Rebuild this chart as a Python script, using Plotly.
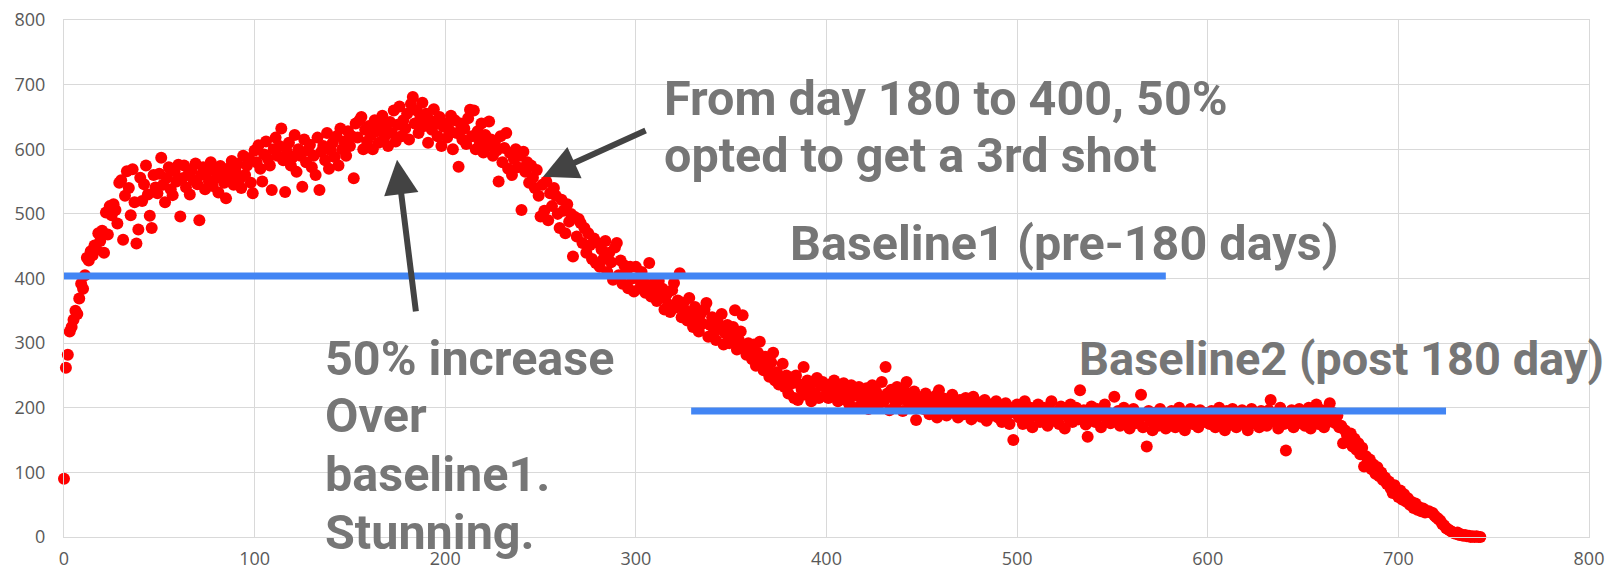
import plotly.graph_objects as go

# Daily values (day index = position in list)
vals_000_049 = [90, 262, 282, 318, 325, 336, 350, 345, 369, 392,
                384, 405, 432, 428, 442, 436, 451, 445, 470, 458,
                474, 440, 502, 468, 512, 498, 515, 506, 485, 548,
                552, 460, 528, 566, 540, 498, 569, 518, 454, 476,
                556, 520, 546, 575, 530, 497, 478, 560, 541, 532]
vals_050_099 = [562, 587, 545, 518, 556, 572, 538, 529, 566, 550,
                576, 496, 555, 575, 541, 560, 530, 568, 552, 578,
                546, 490, 560, 572, 538, 565, 550, 580, 543, 568,
                556, 533, 574, 562, 548, 524, 570, 558, 582, 545,
                566, 577, 553, 540, 590, 560, 575, 586, 548, 532]
vals_100_149 = [598, 580, 606, 570, 550, 592, 612, 585, 575, 537,
                600, 618, 590, 605, 632, 583, 534, 596, 610, 575,
                588, 622, 565, 600, 590, 542, 615, 580, 598, 607,
                572, 590, 560, 618, 537, 596, 605, 583, 625, 570,
                598, 610, 588, 620, 575, 632, 600, 612, 590, 628]
vals_150_199 = [605, 620, 555, 640, 618, 645, 650, 600, 630, 612,
                636, 622, 600, 645, 628, 610, 640, 652, 618, 630,
                605, 642, 625, 660, 612, 638, 666, 620, 645, 632,
                655, 615, 670, 681, 640, 660, 625, 650, 672, 636,
                655, 610, 645, 630, 662, 640, 620, 650, 605, 635]
vals_200_249 = [640, 618, 630, 652, 600, 645, 625, 573, 640, 615,
                632, 608, 648, 661, 620, 660, 600, 628, 612, 640,
                595, 622, 605, 643, 615, 590, 610, 598, 550, 620,
                580, 602, 625, 570, 594, 560, 585, 600, 572, 590,
                506, 596, 565, 580, 548, 575, 556, 540, 568, 528]
vals_250_299 = [496, 545, 505, 550, 490, 532, 512, 540, 528, 500,
                478, 522, 505, 470, 515, 488, 500, 434, 495, 465,
                492, 486, 455, 478, 440, 470, 452, 430, 462, 424,
                455, 418, 445, 430, 458, 410, 440, 425, 398, 448,
                455, 405, 428, 392, 420, 410, 385, 418, 400, 380]
vals_300_349 = [418, 400, 385, 410, 395, 378, 388, 424, 372, 392,
                380, 365, 396, 370, 384, 352, 375, 360, 348, 382,
                393, 355, 366, 408, 340, 362, 350, 335, 370, 346,
                325, 356, 338, 318, 345, 330, 352, 362, 310, 328,
                340, 318, 305, 332, 322, 345, 298, 315, 328, 300]
vals_350_399 = [312, 325, 351, 290, 305, 318, 343, 295, 282, 300,
                288, 275, 298, 265, 285, 302, 270, 258, 279, 262,
                248, 270, 285, 242, 255, 236, 243, 268, 232, 250,
                222, 246, 238, 215, 250, 212, 236, 228, 263, 220,
                242, 230, 210, 240, 222, 246, 215, 234, 240, 218]
vals_400_449 = [230, 215, 236, 222, 242, 227, 210, 232, 220, 238,
                212, 228, 205, 235, 218, 226, 200, 232, 215, 224,
                208, 230, 198, 220, 235, 212, 225, 202, 218, 240,
                210, 263, 222, 196, 228, 215, 204, 232, 212, 220,
                195, 226, 240, 208, 218, 200, 225, 181, 212, 205]
vals_450_499 = [215, 198, 222, 205, 190, 212, 200, 218, 185, 227,
                204, 195, 214, 188, 208, 198, 220, 192, 206, 185,
                212, 200, 190, 215, 196, 205, 182, 217, 198, 190,
                208, 186, 200, 212, 180, 196, 205, 188, 200, 210,
                185, 198, 178, 203, 207, 190, 175, 200, 150, 192]
vals_500_549 = [205, 185, 198, 175, 210, 190, 182, 200, 170, 195,
                188, 205, 178, 192, 200, 185, 172, 198, 210, 180,
                193, 186, 175, 202, 190, 168, 196, 184, 205, 178,
                192, 200, 182, 227, 188, 196, 174, 155, 190, 202,
                185, 178, 198, 188, 170, 195, 205, 182, 192, 176]
vals_550_599 = [190, 217, 180, 195, 172, 188, 200, 178, 192, 168,
                185, 198, 176, 190, 182, 220, 170, 188, 140, 195,
                180, 165, 192, 185, 172, 198, 180, 190, 168, 185,
                176, 195, 182, 170, 190, 200, 178, 186, 165, 192,
                180, 198, 175, 188, 182, 170, 196, 185, 178, 192]
vals_600_669 = [186, 175, 195, 182, 170, 190, 200, 178, 188, 165,
                195, 182, 174, 198, 185, 170, 192, 180, 196, 175,
                188, 165, 182, 198, 176, 190, 184, 170, 195, 180,
                188, 172, 196, 212, 185, 178, 192, 168, 200, 186,
                175, 134, 190, 182, 196, 170, 188, 180, 198, 176,
                190, 172, 185, 200, 168, 192, 180, 205, 175, 188,
                196, 170, 185, 178, 207, 182, 192, 176, 188, 170]
vals_670_743 = [172, 145, 165, 158, 150, 160, 140, 152, 135, 145,
                128, 138, 109, 125, 115, 120, 105, 112, 98, 108,
                94, 100, 88, 92, 82, 86, 75, 68, 80, 70,
                62, 72, 58, 66, 55, 60, 50, 54, 45, 52,
                42, 46, 40, 44, 38, 40, 40, 38, 37, 33,
                30, 28, 25, 20, 18, 14, 12, 10, 8, 6,
                5, 7, 3, 4, 2, 3, 1, 2, 0, 1,
                0, 1, 0, 0]

values = (vals_000_049 + vals_050_099 + vals_100_149 + vals_150_199 +
          vals_200_249 + vals_250_299 + vals_300_349 + vals_350_399 +
          vals_400_449 + vals_450_499 + vals_500_549 + vals_550_599 +
          vals_600_669 + vals_670_743)
days = list(range(len(values)))

tick_vals = [0, 100, 200, 300, 400, 500, 600, 700, 800]
tick_text = ["0", "100", "200", "300", "400", "500", "600", "700", "800"]

baseline1 = 404
baseline2 = 195

fig = go.Figure()
fig.add_trace(go.Scatter(
    x=days, y=values, mode="markers",
    marker=dict(color="#ff0000", size=12, line=dict(width=0)),
    cliponaxis=False, showlegend=False, hoverinfo="x+y",
))

grid = "#d9d9d9"
axis_font = dict(family="Open Sans, DejaVu Sans, sans-serif", size=18, color="#595959")
fig.update_xaxes(range=[0, 800], tickvals=tick_vals, ticktext=tick_text,
                 showgrid=True, gridcolor=grid, gridwidth=1, zeroline=False,
                 showline=True, linecolor=grid, linewidth=1, mirror=True,
                 ticks="", tickfont=axis_font, ticklabelstandoff=5, automargin=False)
fig.update_yaxes(range=[0, 800], tickvals=tick_vals, ticktext=tick_text,
                 showgrid=True, gridcolor=grid, gridwidth=1, zeroline=False,
                 showline=True, linecolor=grid, linewidth=1, mirror=True,
                 ticks="", tickfont=axis_font, ticklabelstandoff=14, automargin=False)

blue = "#4285f4"
fig.add_shape(type="line", xref="x", yref="y", x0=0, x1=578, y0=baseline1, y1=baseline1,
              line=dict(color=blue, width=7), layer="above")
fig.add_shape(type="line", xref="x", yref="y", x0=329, x1=725, y0=baseline2, y1=baseline2,
              line=dict(color=blue, width=7), layer="above")

def label(text, x, y, size=48.5):
    fig.add_annotation(text=text, x=x, y=y, xref="x", yref="y", xanchor="left",
                       yanchor="top", align="left", showarrow=False,
                       font=dict(family="Roboto, sans-serif", size=size,
                                 color="#767676", weight="bold"),
                       borderpad=0, borderwidth=0)

label("From day 180 to 400, 50%", 314.8, 722.0)
label("opted to get a 3rd shot", 314.8, 634.0)
label("Baseline1 (pre-180 days)", 381.0, 498.0)
label("Baseline2 (post 180 day)", 532.5, 318.5, size=47)
label("50% increase", 137.0, 320.0)
label("Over", 137.0, 231.5)
label("baseline1.", 137.0, 141.5)
label("Stunning.", 137.0, 51.0)

arrow_col = "#434343"
def arrow(tip_x, tip_y, tail_x, tail_y):
    fig.add_annotation(text="", x=tip_x, y=tip_y, ax=tail_x, ay=tail_y,
                       xref="x", yref="y", axref="x", ayref="y",
                       showarrow=True, arrowhead=2, arrowsize=1.15, arrowwidth=6,
                       arrowcolor=arrow_col, standoff=0)

arrow(174.7, 583.6, 184.7, 346.7)
arrow(251.3, 557.3, 305.9, 630.0)

fig.update_layout(
    width=1614, height=575,
    margin=dict(l=64, r=25, t=20, b=38),
    plot_bgcolor="white", paper_bgcolor="white",
)

fig.write_html("out.html", config={"displayModeBar": False},
               post_script="document.body.style.margin='0';document.body.style.overflow='hidden';")
